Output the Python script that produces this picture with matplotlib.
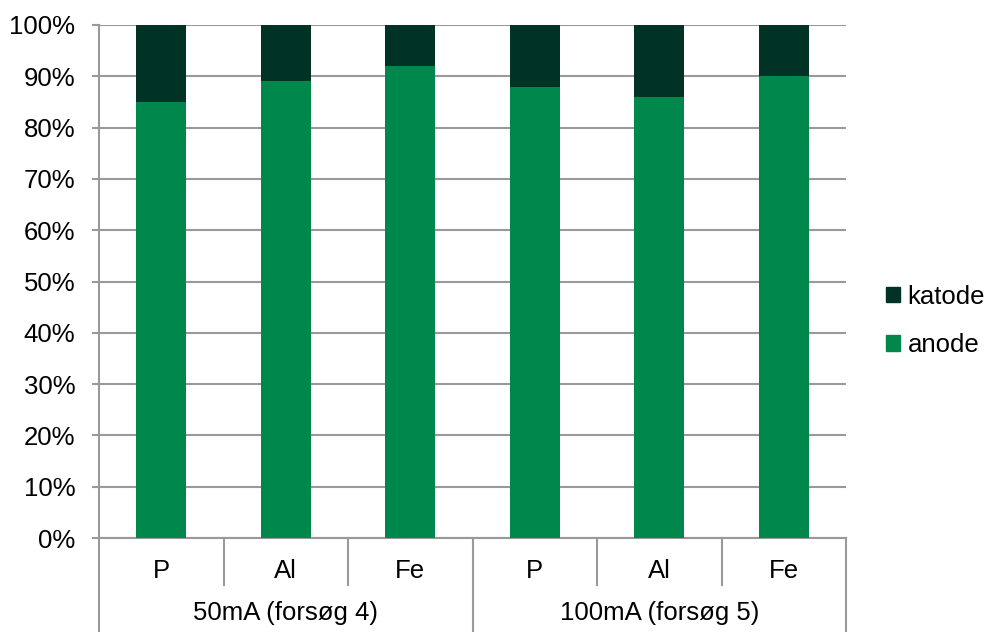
import matplotlib.pyplot as plt
from matplotlib.patches import Patch

plt.rcParams['font.family'] = ['Liberation Sans', 'DejaVu Sans']

categories = ["P", "Al", "Fe", "P", "Al", "Fe"]
groups = ["50mA (forsøg 4)", "100mA (forsøg 5)"]
anode = [85, 89, 92, 88, 86, 90]
katode = [100 - a for a in anode]

c_anode = "#00874B"
c_katode = "#003325"
grid_c = "#999999"

fig = plt.figure(figsize=(9.89, 6.32), dpi=100)
ax = fig.add_axes([99 / 989, 1 - 538 / 632, (846 - 99) / 989, (538 - 25) / 632])

x = list(range(len(categories)))
ax.bar(x, anode, width=0.4, color=c_anode, zorder=3)
ax.bar(x, katode, width=0.4, bottom=anode, color=c_katode, zorder=3)

ax.set_xlim(-0.5, len(categories) - 0.5)
ax.set_ylim(0, 100)
ax.set_yticks(range(0, 101, 10))
ax.set_yticklabels([f"{v}%" for v in range(0, 101, 10)], fontsize=18.5)
ax.yaxis.grid(True, color=grid_c, linewidth=1.5, zorder=0)
ax.tick_params(axis='y', length=5, width=1.5, color=grid_c, pad=12)
for s in ["top", "right"]:
    ax.spines[s].set_visible(False)
ax.spines["left"].set_color(grid_c)
ax.spines["left"].set_linewidth(1.5)
ax.spines["bottom"].set_color(grid_c)
ax.spines["bottom"].set_linewidth(1.5)

ax.set_xticks([])
trans = ax.get_xaxis_transform()
h = (538 - 25)
short = -(585 - 538) / h
long_ = -(632 - 538) / h
for i in range(len(categories) + 1):
    xs = i - 0.5
    yb = long_ if i % 3 == 0 else short
    ax.plot([xs, xs], [0, yb], transform=trans, color=grid_c, lw=1.5, clip_on=False)
for i, c in enumerate(categories):
    ax.text(i, -(571 - 538) / h, c, transform=trans, ha='center', va='center', fontsize=18.5)
for j, g in enumerate(groups):
    ax.text(3 * j + 1, -(613 - 538) / h, g, transform=trans, ha='center', va='center', fontsize=18.5)

handles = [Patch(color=c_katode, label="katode"), Patch(color=c_anode, label="anode")]
fig.legend(handles=handles, loc='center left', bbox_to_anchor=(873 / 989, 1 - 321 / 632),
           frameon=False, fontsize=18.5, handlelength=0.55, handleheight=0.55,
           handletextpad=0.3, labelspacing=0.95, borderpad=0)

fig.savefig("out.png", dpi=100)
